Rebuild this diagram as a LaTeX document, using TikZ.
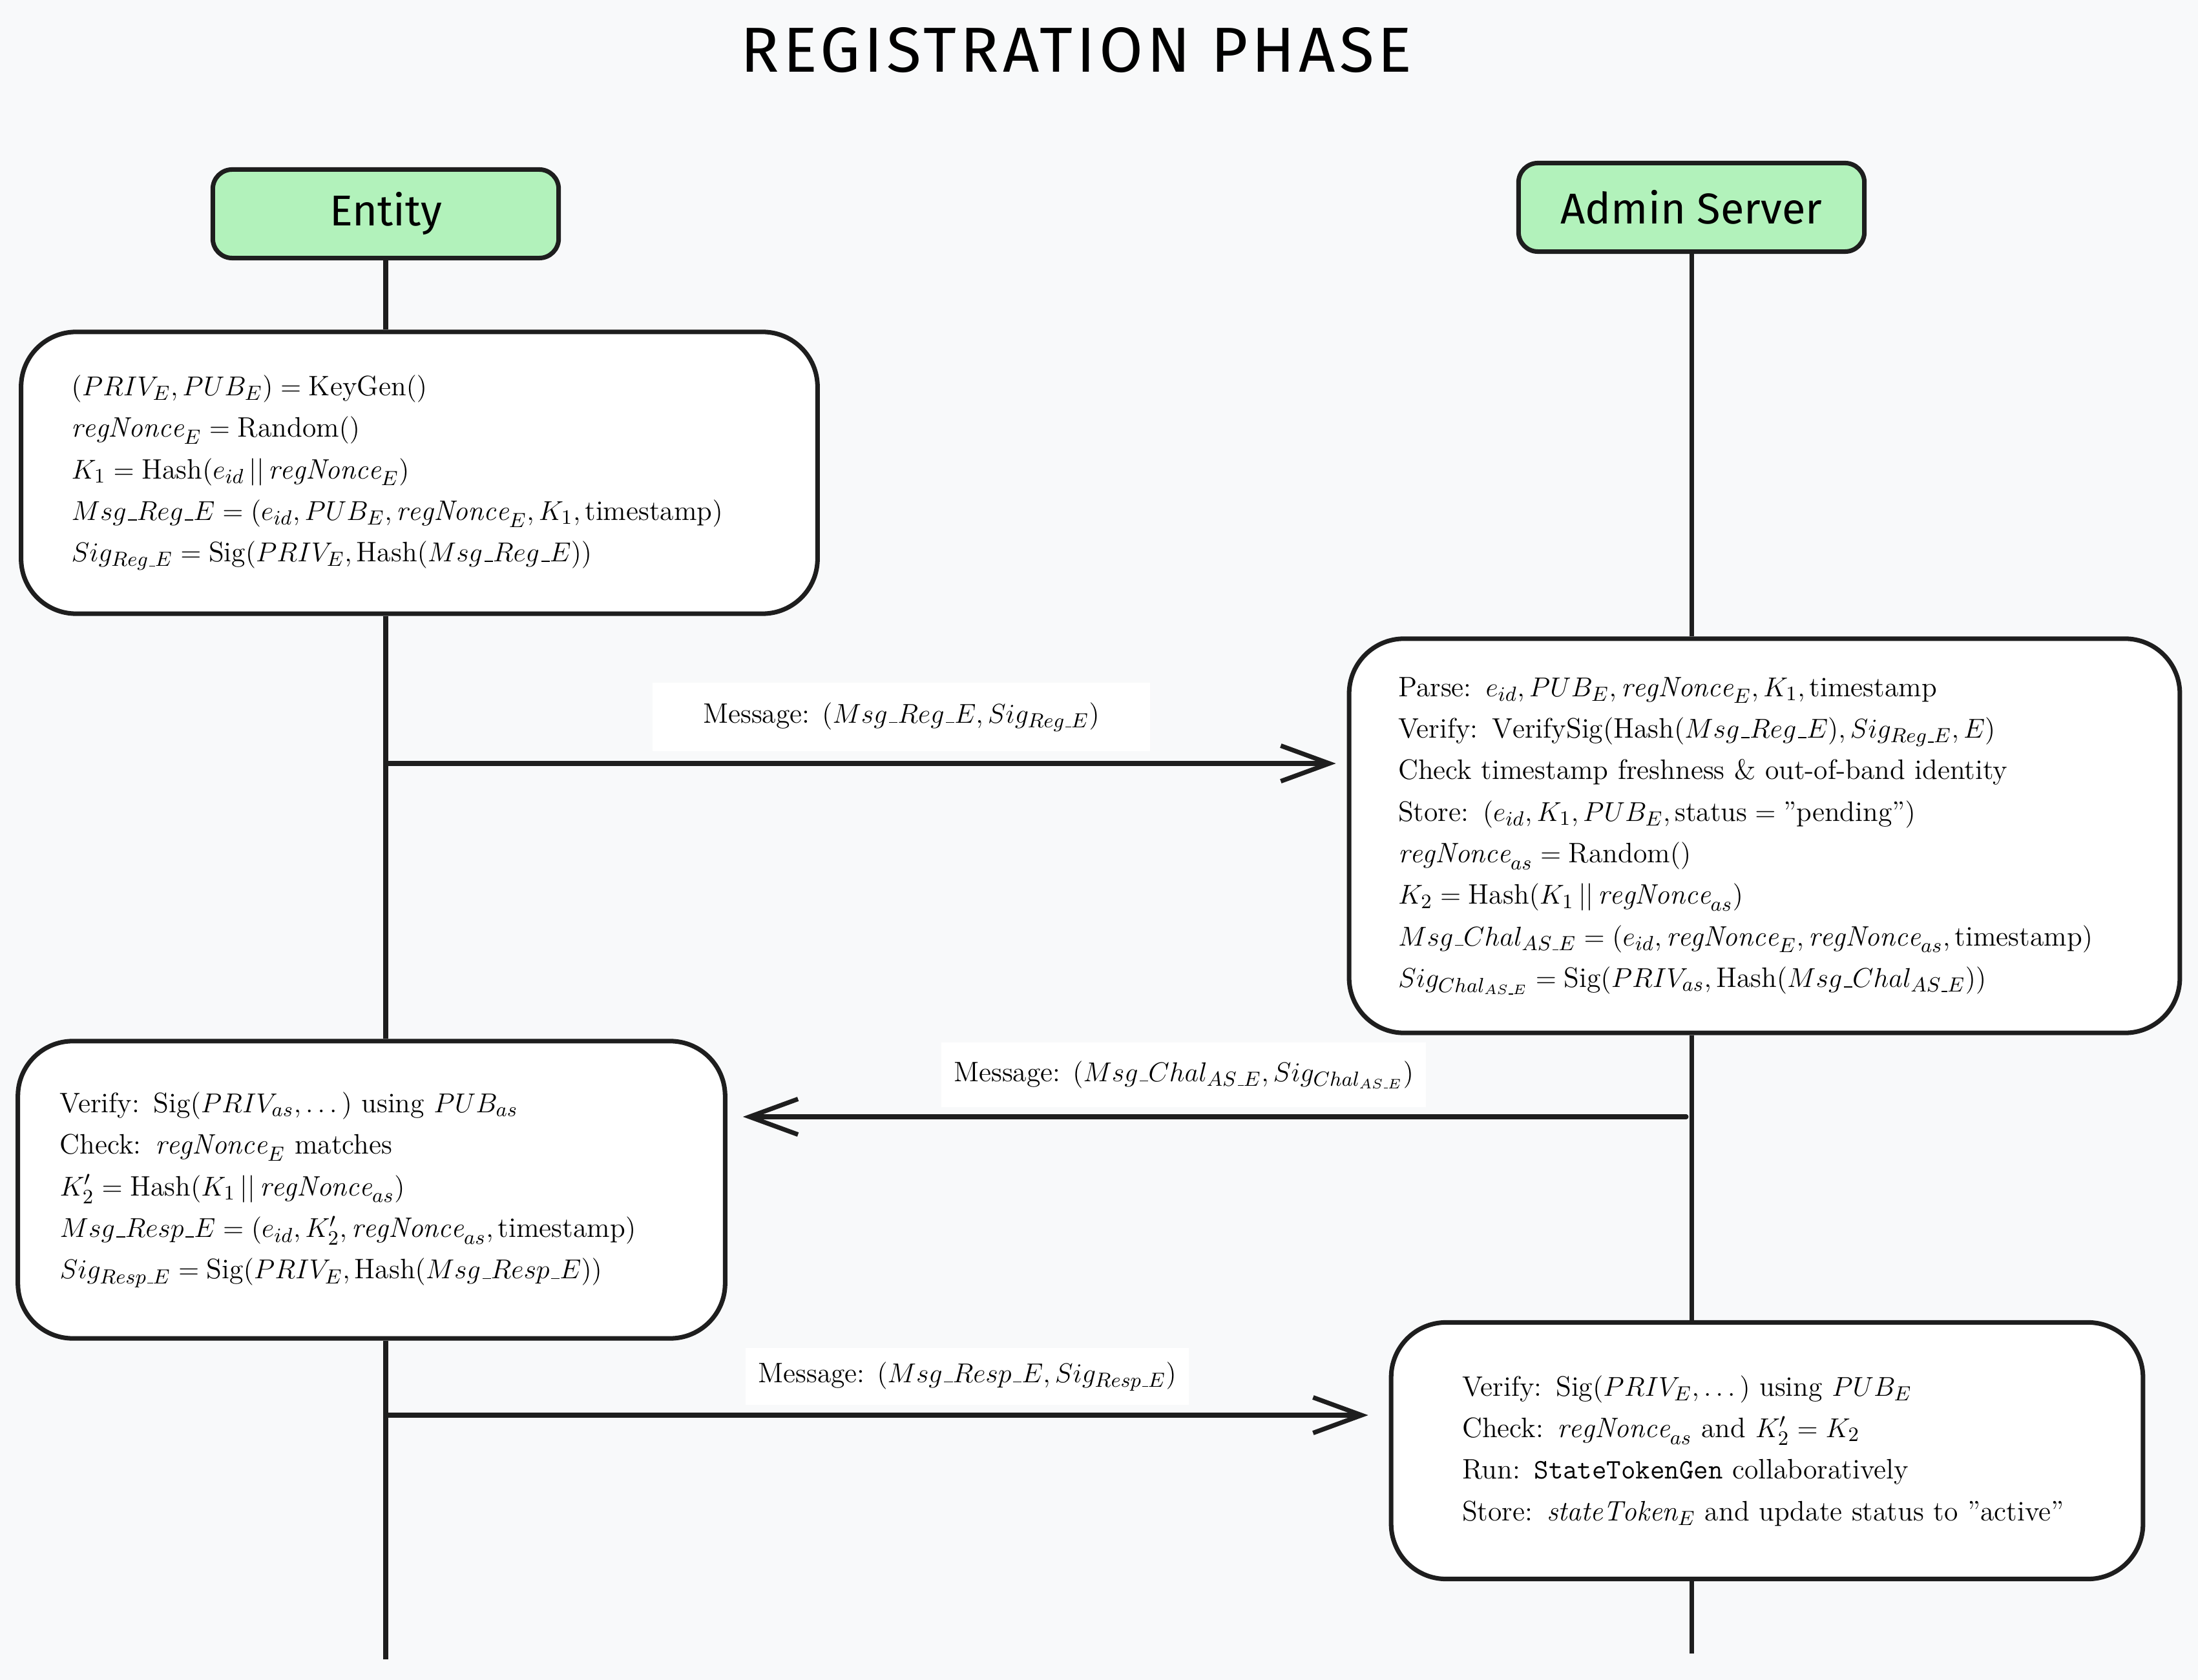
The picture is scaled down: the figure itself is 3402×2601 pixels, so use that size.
\documentclass[tikz,border=0pt]{standalone}
\usepackage{amsmath}
\usepackage{fontspec}
\usetikzlibrary{arrows.meta}
\newfontfamily\handfont{Fira Sans}
\newfontfamily\titlefont[LetterSpace=6]{Fira Sans}
\newcommand{\usc}{\text{\kern.06em\vbox{\hrule width.3em}}}
\definecolor{canvas}{HTML}{F8F9FA}
\definecolor{ink}{HTML}{1E1E1E}
\definecolor{mint}{HTML}{B2F2BB}

\begin{document}
\begin{tikzpicture}[x=0.01cm, y=-0.01cm,
   actor/.style={draw=ink, fill=mint, line width=2pt, rounded corners=0.3cm,
     minimum width=5.35cm, minimum height=1.37cm, font=\handfont\fontsize{19}{23}\selectfont},
   stepbox/.style={draw=ink, fill=white, line width=2pt, rounded corners=0.85cm,
     align=left, font=\fontsize{12.4}{18.3}\selectfont},
   msglabel/.style={fill=white, inner sep=0pt, font=\fontsize{12.4}{15}\selectfont},
   life/.style={draw=ink, line width=2pt},
   msg/.style={draw=ink, line width=2pt, line cap=round,
     -{Straight Barb[length=0.75cm,width=0.55cm]}}]
\fill[canvas] (0,0) rectangle (3402,2601);
\useasboundingbox (0,0) rectangle (3402,2601);

\node[font=\titlefont\fontsize{28}{32}\selectfont] (title) at (1666,78) {REGISTRATION PHASE};

\node[actor] (ent) at (597,331) {Entity};
\node[actor] (adm) at (2618,321) {Admin Server};

\node[stepbox, text width=10.76cm, inner xsep=0.78cm, minimum height=4.36cm] (ecomp) at (649,732) {
$(PRIV_E, PUB_E) = \mathrm{KeyGen}()$\\
$\mathit{regNonce}_E = \mathrm{Random}()$\\
$K_1 = \mathrm{Hash}(e_{id} \,||\, \mathit{regNonce}_E)$\\
$Msg\usc Reg\usc E = (e_{id}, PUB_E, \mathit{regNonce}_E, K_1, \mathrm{timestamp})$\\
$Sig_{Reg\usc E} = \mathrm{Sig}(PRIV_E, \mathrm{Hash}(Msg\usc Reg\usc E))$};

\node[stepbox, text width=11.33cm, inner xsep=0.76cm, minimum height=6.10cm] (acheck) at (2731,1294) {
Parse: $e_{id}, PUB_E, \mathit{regNonce}_E, K_1, \mathrm{timestamp}$\\
Verify: $\mathrm{VerifySig}(\mathrm{Hash}(Msg\usc Reg\usc E), Sig_{Reg\usc E}, E)$\\
Check timestamp freshness \& out-of-band identity\\
Store: $(e_{id}, K_1, PUB_E, \mathrm{status} = \text{''pending''})$\\
$\mathit{regNonce}_{as} = \mathrm{Random}()$\\
$K_2 = \mathrm{Hash}(K_1 \,||\, \mathit{regNonce}_{as})$\\
$Msg\usc Chal_{AS\usc E} = (e_{id}, \mathit{regNonce}_E, \mathit{regNonce}_{as}, \mathrm{timestamp})$\\
$Sig_{Chal_{AS\usc E}} = \mathrm{Sig}(PRIV_{as}, \mathrm{Hash}(Msg\usc Chal_{AS\usc E}))$};

\node[stepbox, text width=9.64cm, inner xsep=0.65cm, minimum height=4.60cm] (everify) at (575,1842) {
Verify: $\mathrm{Sig}(PRIV_{as}, \dots)$ using $PUB_{as}$\\
Check: $\mathit{regNonce}_E$ matches\\
$K_2' = \mathrm{Hash}(K_1 \,||\, \mathit{regNonce}_{as})$\\
$Msg\usc Resp\usc E = (e_{id}, K_2', \mathit{regNonce}_{as}, \mathrm{timestamp})$\\
$Sig_{Resp\usc E} = \mathrm{Sig}(PRIV_E, \mathrm{Hash}(Msg\usc Resp\usc E))$};

\node[stepbox, text width=9.43cm, inner xsep=1.1cm, minimum height=3.97cm] (afinal) at (2735,2246) {
Verify: $\mathrm{Sig}(PRIV_E, \dots)$ using $PUB_E$\\
Check: $\mathit{regNonce}_{as}$ and $K_2' = K_2$\\
Run: \texttt{StateTokenGen} collaboratively\\
Store: $\mathit{stateToken}_E$ and update status to ''active''};

\coordinate (eend) at (597,2569);
\coordinate (aend) at (2618,2560);
\draw[life] (ent.south) -- (ent.south |- ecomp.north);
\draw[life] (ent.south |- ecomp.south) -- (ent.south |- everify.north);
\draw[life] (ent.south |- everify.south) -- (eend);
\draw[life] (adm.south) -- (adm.south |- acheck.north);
\draw[life] (adm.south |- acheck.south) -- (adm.south |- afinal.north);
\draw[life] (adm.south |- afinal.south) -- (aend);

\coordinate (m1) at (597,1182);
\coordinate (m2) at (2610,1729);
\coordinate (m3) at (597,2191);
\draw[msg, shorten >=0.17cm] (m1) -- (m1 -| acheck.west);
\draw[msg, shorten >=0.24cm] (m2) -- (m2 -| everify.east);
\draw[msg, shorten >=0.32cm] (m3) -- (m3 -| afinal.west);

\node[msglabel, minimum width=7.7cm, minimum height=1.06cm] (l1) at (1395,1110)
  {Message: $(Msg\usc Reg\usc E, Sig_{Reg\usc E})$};
\node[msglabel, minimum width=7.49cm, minimum height=1.0cm] (l2) at (1832,1664)
  {Message: $(Msg\usc Chal_{AS\usc E}, Sig_{Chal_{AS\usc E}})$};
\node[msglabel, minimum width=6.86cm, minimum height=0.87cm] (l3) at (1497,2131)
  {Message: $(Msg\usc Resp\usc E, Sig_{Resp\usc E})$};
\end{tikzpicture}
\end{document}
